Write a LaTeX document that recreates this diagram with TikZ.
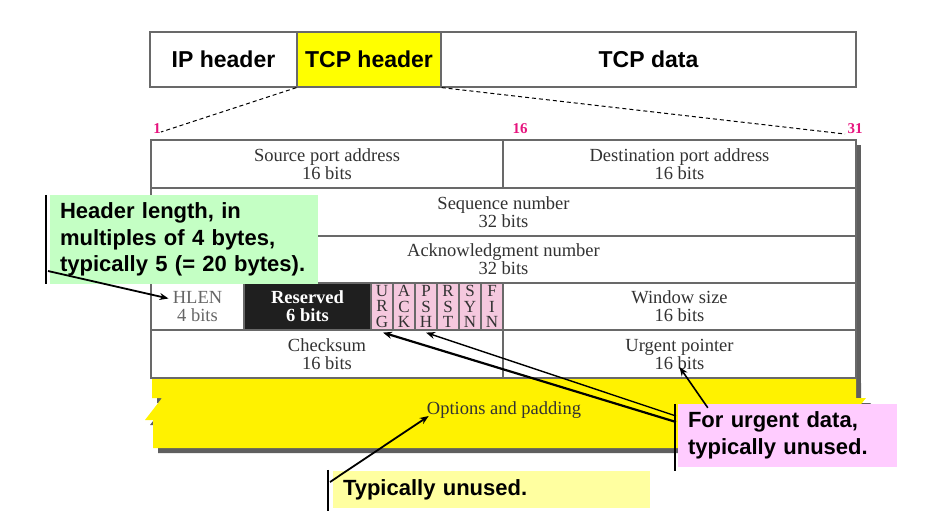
\documentclass[tikz,border=0pt]{standalone}
\usepackage{fontspec}
\setmainfont{Liberation Serif}
\setsansfont{Liberation Sans}
\usetikzlibrary{arrows.meta}
\definecolor{tblline}{RGB}{105,105,105}
\definecolor{shadowgray}{RGB}{95,95,95}
\definecolor{tbltext}{RGB}{50,50,50}
\definecolor{hdryellow}{RGB}{255,255,0}
\definecolor{bandyellow}{RGB}{255,242,0}
\definecolor{flagpink}{RGB}{245,200,222}
\definecolor{notegreen}{RGB}{196,255,196}
\definecolor{notepink}{RGB}{255,204,255}
\definecolor{noteyellow}{RGB}{255,255,160}
\definecolor{bitmag}{RGB}{230,20,126}
\tikzset{
  hdrbox/.style={draw=tblline, line width=1.2pt, minimum height=55pt, inner sep=0pt,
    font=\sffamily\bfseries\fontsize{23}{23}\selectfont, text=black},
  cell/.style={draw=tblline, line width=1.2pt, fill=white, inner sep=0pt, align=center,
    font=\fontsize{18.5}{18}\selectfont, text=tbltext},
  flagcell/.style={cell, fill=flagpink, minimum width=22pt, minimum height=47pt,
    font=\fontsize{17}{15.5}\selectfont},
  bitnum/.style={font=\bfseries\fontsize{15}{15}\selectfont, text=bitmag, inner sep=0pt},
  note/.style={inner sep=0pt, inner xsep=10pt, align=left,
    font=\sffamily\bfseries\fontsize{22}{26.5}\selectfont, text=black},
  notebar/.style={draw=black, line width=2.2pt},
  arr/.style={draw=black, line width=1.8pt, -{Stealth[length=9pt,width=7pt]}},
}
\begin{document}
\begin{tikzpicture}[x=1pt,y=-1pt]
\useasboundingbox (0,0) rectangle (933,520);

% top bar
\node[hdrbox, minimum width=147pt] (ip) at (223.5,59.5) {IP header};
\node[hdrbox, fill=hdryellow, minimum width=144pt] (tcph) at (369,59.5) {TCP header};
\node[hdrbox, minimum width=415pt] (data) at (648.5,59.5) {TCP data};

% bit numbers
\node[bitnum] (n1) at (157,129) {1};
\node[bitnum] (n16) at (520,129) {16};
\node[bitnum] (n31) at (855,129) {31};
\coordinate (c1) at (161,132);
\coordinate (c31) at (845,134);
\draw[dash pattern=on 4pt off 3pt, line width=1pt] (tcph.south west) -- (c1);
\draw[dash pattern=on 4pt off 3pt, line width=1pt] (tcph.south east) -- (c31);

% shadows
\fill[shadowgray] (156,145) rectangle (861,383);
\fill[shadowgray] (157,383) -- (157,403) -- (167,403) -- (150,425) -- (158,425) -- (158,453)
  -- (861,453) -- (861,425) -- (853,425) -- (871,403) -- (861,403) -- (861,383) -- cycle;
% options band
\fill[bandyellow] (152,378) -- (152,398) -- (162,398) -- (145,420) -- (153,420) -- (153,448)
  -- (856,448) -- (856,420) -- (848,420) -- (866,398) -- (856,398) -- (856,378) -- cycle;
\node[font=\fontsize{18.5}{18}\selectfont, text=tbltext, inner sep=0pt] (opt) at (504,410) {Options and padding};

% table
\node[cell, minimum width=352pt, minimum height=48pt] (src) at (327,164) {Source port address\\16 bits};
\node[cell, minimum width=353pt, minimum height=48pt] (dst) at (679.5,164) {Destination port address\\16 bits};
\node[cell, minimum width=705pt, minimum height=48pt] (seq) at (503.5,212) {Sequence number\\32 bits};
\node[cell, minimum width=705pt, minimum height=47pt] (ack) at (503.5,259.5) {Acknowledgment number\\32 bits};
\node[cell, minimum width=93pt, minimum height=47pt, text=black!60] (hlen) at (197.5,306.5) {HLEN\\4 bits};
\node[cell, fill=black!88, text=white, font=\bfseries\fontsize{18.5}{18}\selectfont,
  minimum width=127pt, minimum height=47pt] (res) at (307.5,306.5) {Reserved\\6 bits};
\node[flagcell] (fU) at (382,306.5) {U\\R\\G};
\node[flagcell] (fA) at (404,306.5) {A\\C\\K};
\node[flagcell] (fP) at (426,306.5) {P\\S\\H};
\node[flagcell] (fR) at (448,306.5) {R\\S\\T};
\node[flagcell] (fS) at (470,306.5) {S\\Y\\N};
\node[flagcell] (fF) at (492,306.5) {F\\I\\N};
\node[cell, minimum width=353pt, minimum height=47pt] (win) at (679.5,306.5) {Window size\\16 bits};
\node[cell, minimum width=352pt, minimum height=48pt] (chk) at (327,354) {Checksum\\16 bits};
\node[cell, minimum width=353pt, minimum height=48pt] (urgp) at (679.5,354) {Urgent pointer\\16 bits};

% green note
\node[note, fill=notegreen, text width=248pt, minimum height=89pt] (hl) at (184,239.5)
  {Header length, in\\multiples of 4 bytes,\\typically 5 (= 20 bytes).};
\draw[notebar] ([xshift=-4pt]hl.north west) -- ([xshift=-4pt]hl.south west);
\coordinate (a1) at (48,271);
\draw[arr] (a1) -- ([xshift=-29pt,yshift=8pt]hlen.center);

% pink note
\node[note, fill=notepink, text width=199pt, minimum height=63pt] (pk) at (787.5,435.5)
  {For urgent data,\\typically unused.};
\draw[notebar] ([xshift=-3pt]pk.north west) -- ([xshift=-3pt,yshift=-4pt]pk.south west);
\coordinate (p1) at (676,422);
\coordinate (p2) at (676,416);
\draw[arr, line width=2.2pt] (p1) -- ([xshift=1pt,yshift=-2pt]fU.south);
\draw[arr, line width=1.4pt] (p2) -- ([yshift=-2pt]fP.south);
\draw[arr, line width=1.6pt] ([xshift=30pt,yshift=-4pt]pk.north west) -- ([yshift=-13pt]urgp.center);

% yellow note
\node[note, fill=noteyellow, text width=297pt, minimum height=37pt] (tu) at (491.5,489.5)
  {Typically unused.};
\draw[notebar] ([xshift=-5pt,yshift=1pt]tu.north west) -- ([xshift=-5pt,yshift=-3pt]tu.south west);
\coordinate (t1) at (330,482);
\draw[arr] (t1) -- ([xshift=2pt,yshift=-6pt]opt.west);
\end{tikzpicture}
\end{document}
